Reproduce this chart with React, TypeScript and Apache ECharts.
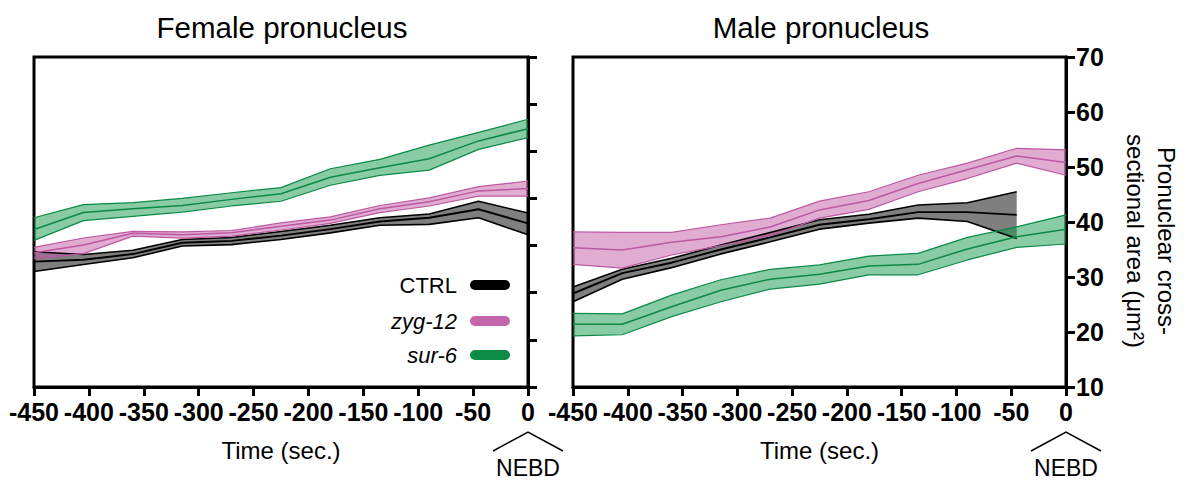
import React, { useEffect, useRef } from "react";
import * as echarts from "echarts";

const times = [-450, -405, -360, -315, -270, -225, -180, -135, -90, -45, 0];
const xTicks = { min: -450, max: 0, interval: 50 };

// Female pronucleus
const ctrlF_mean = [36.6, 37.0, 38.2, 40.6, 41.0, 42.1, 43.5, 45.1, 45.9, 47.7, 44.7];
const ctrlF_lo = [34.5, 36.0, 37.4, 39.9, 40.2, 41.3, 42.7, 44.3, 44.5, 45.9, 42.3];
const ctrlF_hi = [38.7, 38.1, 39.0, 41.3, 41.7, 43.0, 44.3, 45.9, 46.7, 49.4, 46.9];
const zygF_mean = [38.5, 40.1, 42.6, 42.3, 42.7, 44.1, 45.4, 47.8, 49.3, 51.6, 52.1];
const zygF_lo = [37.2, 38.3, 42.0, 41.6, 42.0, 43.3, 44.7, 47.0, 48.4, 50.5, 50.5];
const zygF_hi = [39.6, 41.6, 43.0, 42.9, 43.2, 44.8, 46.1, 48.5, 50.1, 52.5, 53.7];
const surF_mean = [43.4, 47.0, 47.8, 48.5, 49.8, 51.0, 54.5, 56.5, 58.4, 62.2, 64.8];
const surF_lo = [41.1, 45.3, 46.2, 47.1, 48.4, 49.4, 52.8, 54.9, 56.0, 60.4, 62.9];
const surF_hi = [45.9, 48.7, 49.1, 50.0, 51.2, 52.3, 56.3, 58.3, 61.3, 64.0, 66.8];

// Male pronucleus
const ctrlM_mean = [27.0, 30.7, 32.6, 35.0, 37.2, 39.5, 40.5, 41.8, 41.8, 41.3];
const ctrlM_lo = [25.5, 29.6, 31.7, 34.2, 36.4, 38.7, 39.8, 40.7, 40.1, 37.0];
const ctrlM_hi = [28.2, 31.4, 33.4, 35.8, 38.1, 40.4, 41.4, 43.1, 43.5, 45.5];
const zygM_mean = [35.3, 34.9, 36.3, 37.3, 39.1, 42.2, 43.9, 47.0, 49.5, 52.0, 50.8];
const zygM_lo = [32.3, 31.6, 34.0, 35.7, 37.5, 40.7, 42.3, 45.5, 47.9, 50.7, 48.5];
const zygM_hi = [38.2, 38.1, 38.1, 39.5, 40.7, 43.8, 45.5, 48.5, 50.7, 53.4, 53.1];
const surM_mean = [21.4, 21.4, 24.6, 27.6, 29.6, 30.5, 32.0, 32.3, 35.1, 37.3, 38.7];
const surM_lo = [19.3, 19.5, 22.8, 25.5, 27.8, 28.7, 30.4, 30.4, 33.1, 35.4, 36.0];
const surM_hi = [23.4, 23.3, 26.7, 29.5, 31.4, 32.2, 33.8, 34.3, 37.2, 39.1, 41.3];

const legendNames = ["CTRL", "zyg-12", "sur-6"];
const FONT = "'Liberation Sans', Arial, Helvetica, sans-serif";

const COLORS = {
  ctrl: { line: "#000000", fill: "rgba(0,0,0,0.5)", legend: "#000000" },
  zyg: { line: "#bd58a3", fill: "rgba(194,90,166,0.5)", legend: "#c466ab" },
  sur: { line: "#0a8a45", fill: "rgba(17,151,75,0.5)", legend: "#0a8c45" },
};

function lineSeries(name: string, gi: number, vals: number[], color: string, width: number) {
  return {
    type: "line",
    name,
    xAxisIndex: gi,
    yAxisIndex: gi,
    symbol: "none",
    silent: true,
    data: vals.map((v, i) => [times[i], v]),
    lineStyle: { color, width },
  };
}

function band(key: string, gi: number, lo: number[], hi: number[], mean: number[], c: any, w: number) {
  const n = lo.length;
  const fill = {
    type: "custom",
    name: key + "-band-" + gi,
    xAxisIndex: gi,
    yAxisIndex: gi,
    silent: true,
    data: lo.map((v, i) => [times[i], v, hi[i]]),
    encode: { x: 0, y: [1, 2] },
    renderItem: (params: any, api: any) => {
      if (params.dataIndex !== 0) return null;
      const pts: number[][] = [];
      for (let i = 0; i < n; i++) pts.push(api.coord([times[i], lo[i]]));
      for (let i = n - 1; i >= 0; i--) pts.push(api.coord([times[i], hi[i]]));
      return { type: "polygon", shape: { points: pts }, style: { fill: c.fill, stroke: null } };
    },
  };
  return [
    fill,
    lineSeries(key + "-lo-" + gi, gi, lo, c.line, w),
    lineSeries(key + "-hi-" + gi, gi, hi, c.line, w),
    lineSeries(key + "-mean-" + gi, gi, mean, c.line, w + 0.3),
  ];
}

function xAxis(gi: number) {
  return {
    gridIndex: gi,
    type: "value",
    ...xTicks,
    axisLine: { show: true, onZero: false, lineStyle: { color: "#000", width: 3 } },
    axisTick: { show: true, length: 9, lineStyle: { color: "#000", width: 3 } },
    axisLabel: { fontSize: 25, fontWeight: "bold", color: "#000", margin: 12, fontFamily: FONT },
    splitLine: { show: false },
    name: "Time (sec.)",
    nameLocation: "middle",
    nameGap: 51,
    nameTextStyle: { fontSize: 24, color: "#000", fontFamily: FONT },
  };
}

function yAxis(gi: number, min: number, max: number, showLabels: boolean) {
  return {
    gridIndex: gi,
    type: "value",
    position: "right",
    min,
    max,
    interval: 10,
    axisLine: { show: true, onZero: false, lineStyle: { color: "#000", width: 3 } },
    axisTick: { show: true, length: 9, lineStyle: { color: "#000", width: 3 } },
    axisLabel: { show: showLabels, fontSize: 25, fontWeight: "bold", color: "#000", margin: 10, fontFamily: FONT },
    splitLine: { show: false },
  };
}

function nebd(cx: number) {
  return [
    {
      type: "polyline",
      shape: { points: [[cx - 35, 451], [cx, 432], [cx + 35, 451]] },
      style: { stroke: "#000", lineWidth: 1.5, fill: null },
    },
    {
      type: "text",
      x: cx,
      y: 468,
      style: { text: "NEBD", font: `23px ${FONT}`, fill: "#000", textAlign: "center", textVerticalAlign: "middle" },
    },
  ];
}

export default function App() {
  const ref = useRef<HTMLDivElement>(null);
  useEffect(() => {
    if (!ref.current) return;
    const chart = echarts.init(ref.current, null, { renderer: "svg" });
    const legendColors = [COLORS.ctrl.legend, COLORS.zyg.legend, COLORS.sur.legend];
    const legendY = [285, 321, 355];
    const legendGraphics: any[] = [];
    legendNames.forEach((n, i) => {
      legendGraphics.push({
        type: "text",
        x: 457,
        y: legendY[i],
        style: {
          text: n,
          font: `${i === 0 ? "normal" : "italic"} 22px ${FONT}`,
          fill: "#000",
          textAlign: "right",
          textVerticalAlign: "middle",
        },
      });
      legendGraphics.push({
        type: "line",
        shape: { x1: 475, y1: legendY[i], x2: 505, y2: legendY[i] },
        style: { stroke: legendColors[i], lineWidth: 10, lineCap: "round" },
      });
    });

    const option: any = {
      animation: false,
      grid: [
        { left: 34, top: 57, width: 494, height: 330, show: true, borderColor: "#000", borderWidth: 3 },
        { left: 573, top: 57, width: 493, height: 330, show: true, borderColor: "#000", borderWidth: 3 },
      ],
      xAxis: [xAxis(0), xAxis(1)],
      yAxis: [yAxis(0, 10, 80, false), yAxis(1, 10, 70, true)],
      series: [
        ...band("ctrl", 0, ctrlF_lo, ctrlF_hi, ctrlF_mean, COLORS.ctrl, 1.6),
        ...band("zyg", 0, zygF_lo, zygF_hi, zygF_mean, COLORS.zyg, 1.2),
        ...band("sur", 0, surF_lo, surF_hi, surF_mean, COLORS.sur, 1.2),
        ...band("ctrl", 1, ctrlM_lo, ctrlM_hi, ctrlM_mean, COLORS.ctrl, 1.6),
        ...band("zyg", 1, zygM_lo, zygM_hi, zygM_mean, COLORS.zyg, 1.2),
        ...band("sur", 1, surM_lo, surM_hi, surM_mean, COLORS.sur, 1.2),
      ],
      graphic: [
        {
          type: "text",
          x: 282,
          y: 27,
          style: { text: "Female pronucleus", font: `29.5px ${FONT}`, fill: "#000", textAlign: "center", textVerticalAlign: "middle" },
        },
        {
          type: "text",
          x: 821,
          y: 27,
          style: { text: "Male pronucleus", font: `29.5px ${FONT}`, fill: "#000", textAlign: "center", textVerticalAlign: "middle" },
        },
        {
          type: "text",
          x: 1151,
          y: 241,
          rotation: -Math.PI / 2,
          style: {
            text: "Pronuclear cross-\nsectional area (μm²)",
            font: `24px ${FONT}`,
            lineHeight: 31,
            fill: "#000",
            textAlign: "center",
            textVerticalAlign: "middle",
          },
        },
        ...nebd(528),
        ...nebd(1066),
        ...legendGraphics,
      ],
    };
    chart.setOption(option);
    return () => chart.dispose();
  }, []);
  return (
    <div
      ref={ref}
      style={{ position: "absolute", left: 0, top: 0, width: 1185, height: 481, background: "#fff" }}
    />
  );
}
